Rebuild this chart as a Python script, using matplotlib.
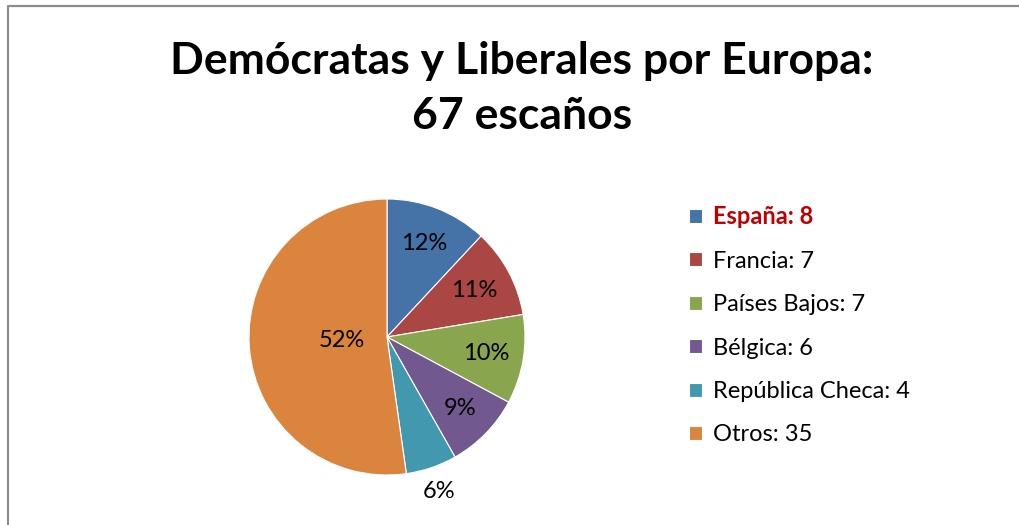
import numpy as np
import matplotlib
matplotlib.use("Agg")
import matplotlib.pyplot as plt
from matplotlib.lines import Line2D

plt.rcParams['font.family'] = ['Lato', 'DejaVu Sans']

# data
countries = ["España", "Francia", "Países Bajos", "Bélgica", "República Checa", "Otros"]
seats = [8, 7, 7, 6, 4, 35]
pct_labels = ["12%", "11%", "10%", "9%", "6%", "52%"]
colors = ["#4572A7", "#AA4643", "#89A54E", "#71588F", "#4198AF", "#DB843D"]
label_dist = [0.73, 0.72, 0.73, 0.74, 1.18, 0.33]

W, H = 1019, 525
fig = plt.figure(figsize=(W / 100, H / 100), dpi=100)
fig.patch.set_facecolor("white")

# outer frame (left + top only visible)
fig.add_artist(Line2D([7.5 / W, 7.5 / W, 1.0], [0.0, 1 - 6 / H, 1 - 6 / H],
                      transform=fig.transFigure, color="#8c8c8c", lw=1.6))

# title
fig.text(522 / W, 1 - 61 / H, "Demócratas y Liberales por Europa:", ha="center", va="center",
         fontsize=32, fontweight="bold", color="black")
fig.text(522 / W, 1 - 116 / H, "67 escaños", ha="center", va="center",
         fontsize=32, fontweight="bold", color="black")

# pie
cx, cy, r = 387, 337, 138
ax = fig.add_axes([(cx - r) / W, (H - cy - r) / H, 2 * r / W, 2 * r / H])
wedges, _ = ax.pie(seats, colors=colors, startangle=90, counterclock=False, radius=1,
                   wedgeprops=dict(linewidth=0.8, edgecolor="white"))
ax.set_xlim(-1, 1)
ax.set_ylim(-1, 1)
ax.axis("off")

for w, lab, d in zip(wedges, pct_labels, label_dist):
    ang = np.deg2rad((w.theta1 + w.theta2) / 2)
    ax.text(d * np.cos(ang), d * np.sin(ang), lab, ha="center", va="center",
            fontsize=17, color="black", clip_on=False)

# legend
leg_labels = [f"{c}: {v}" for c, v in zip(countries, seats)]
leg = fig.legend(wedges, leg_labels, loc="upper left", bbox_to_anchor=(668 / W, 1 - 184 / H),
                 frameon=False, fontsize=17, labelspacing=0.95, handlelength=0.55,
                 handleheight=0.55, handletextpad=0.47)
for t in leg.get_texts()[:1]:
    t.set_color("#C00000")
    t.set_fontweight("bold")

fig.savefig("out.png", dpi=100, facecolor="white")
